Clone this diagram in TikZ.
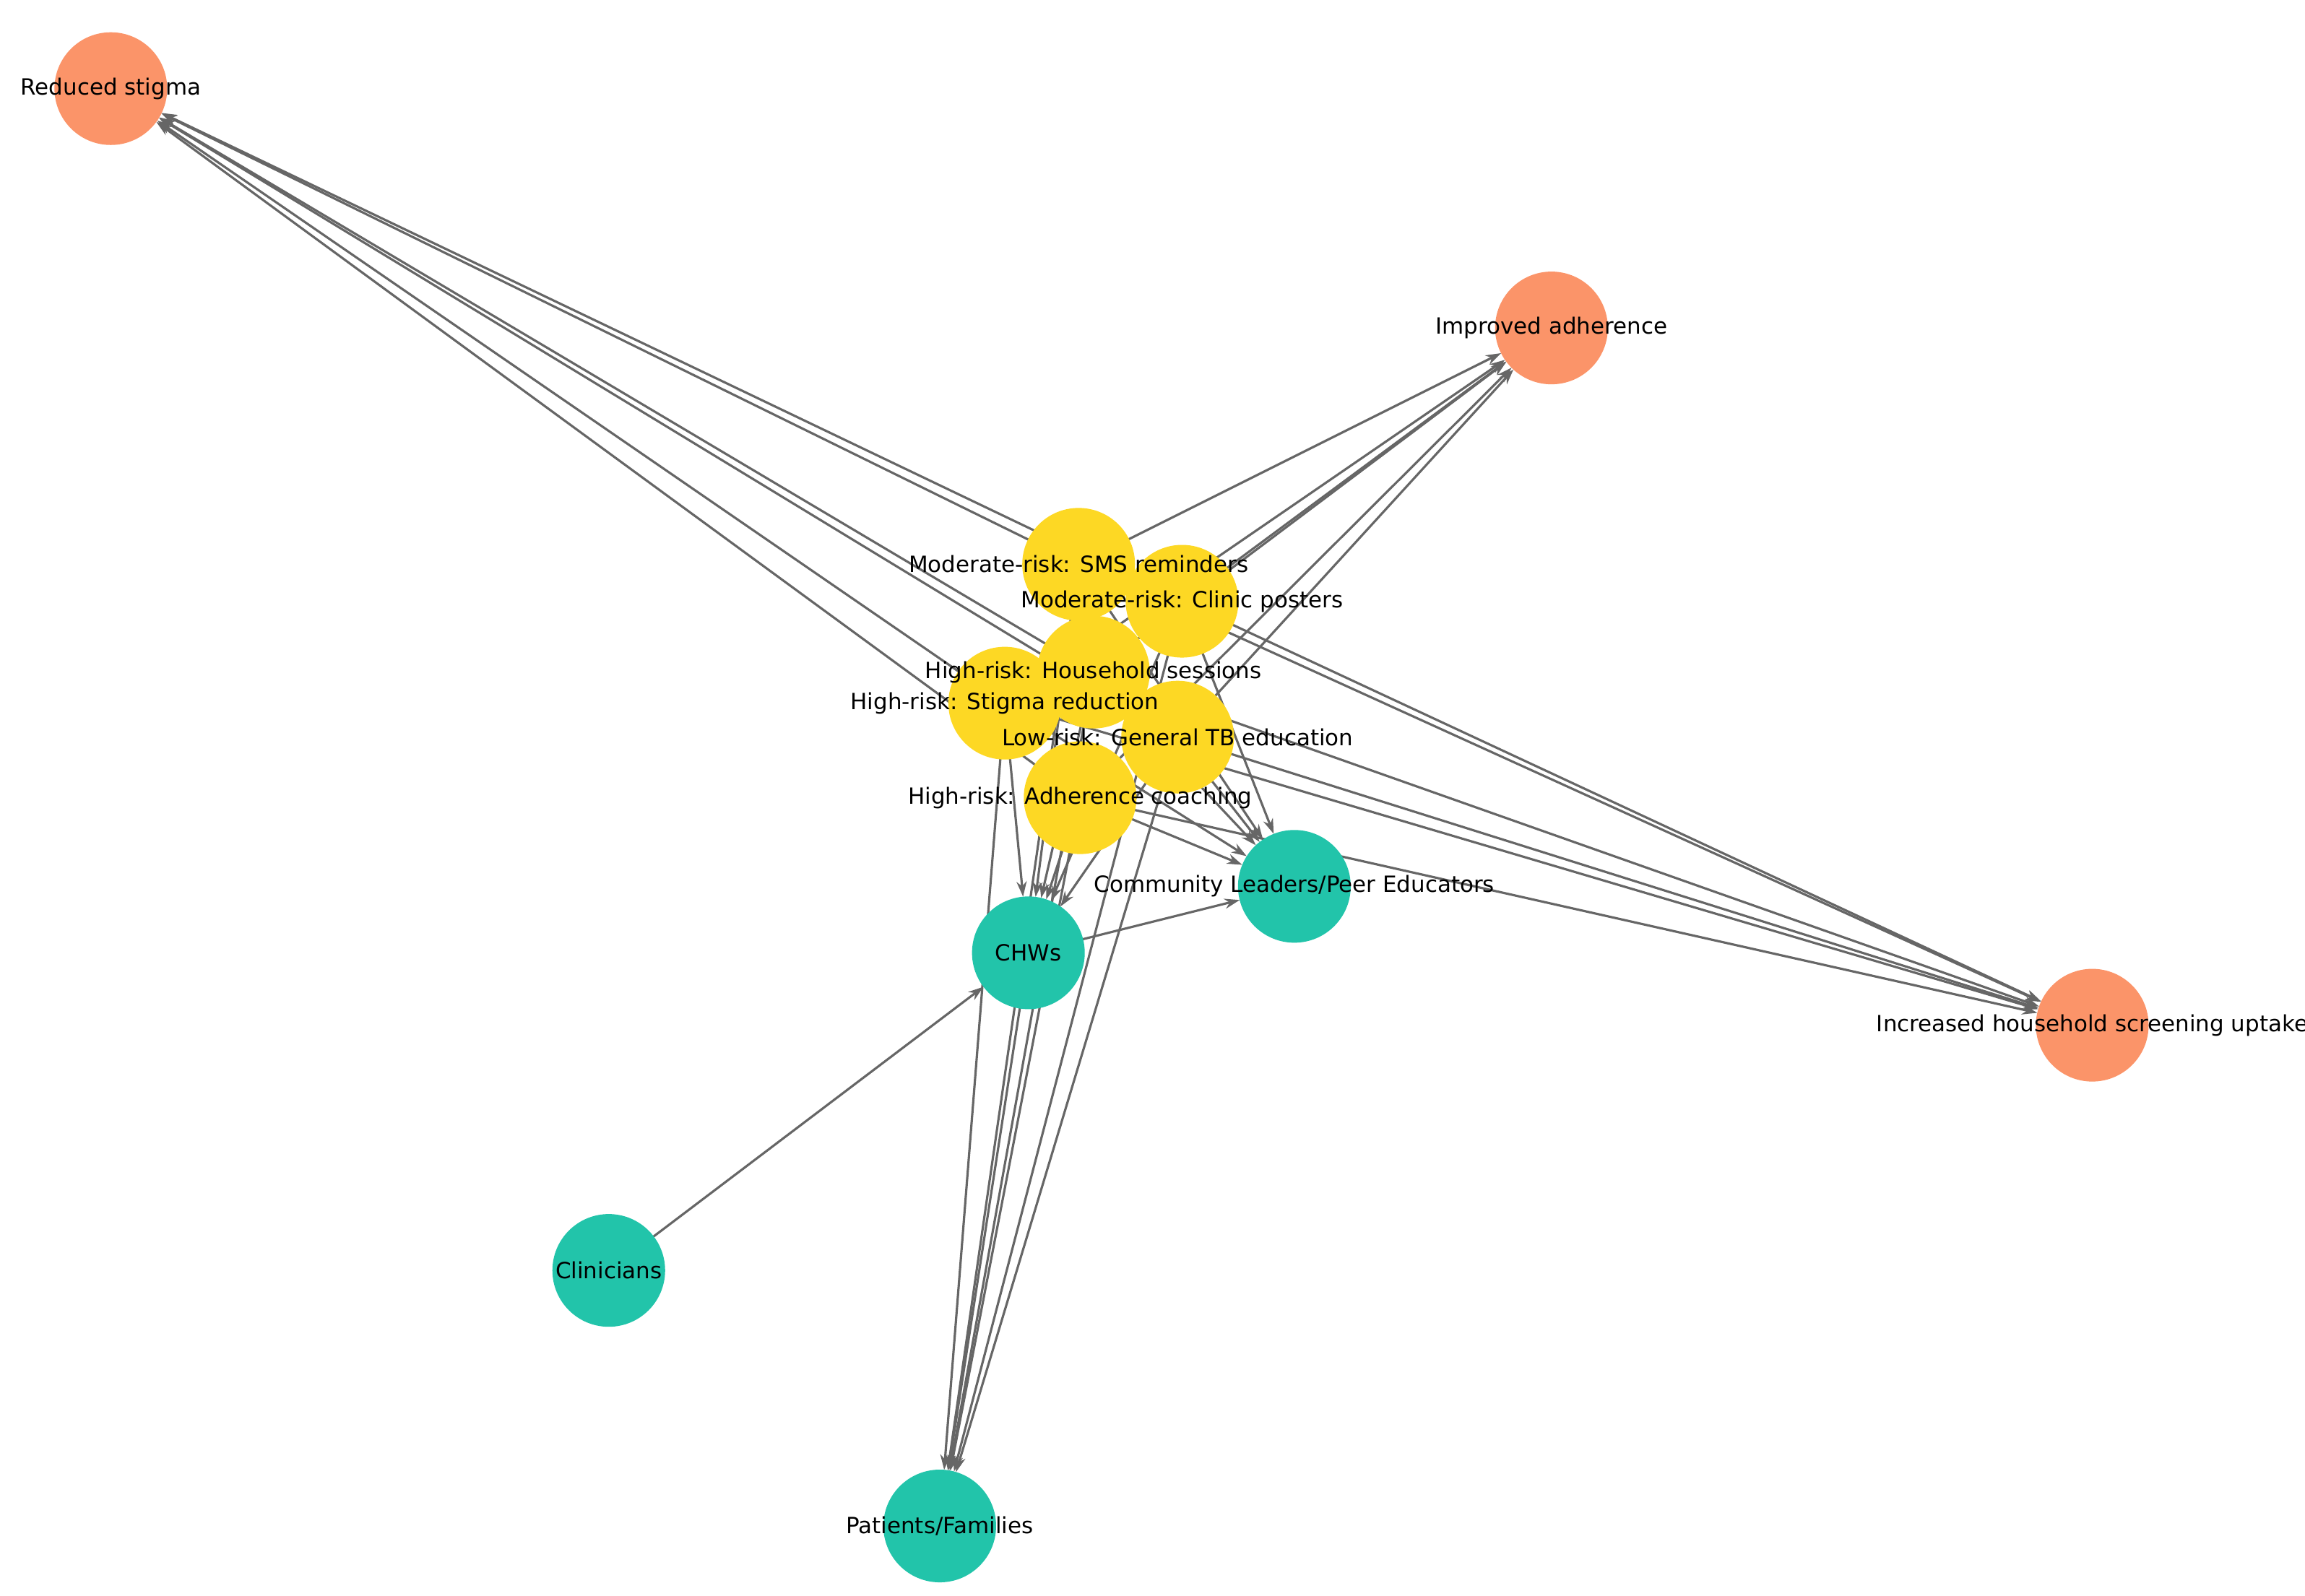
\documentclass[tikz,border=0pt]{standalone}
\usepackage{fontspec}
\setmainfont{DejaVu Sans}
\usetikzlibrary{arrows.meta}
\definecolor{outcome}{HTML}{FB9469}
\definecolor{actor}{HTML}{22C4AA}
\definecolor{action}{HTML}{FDD824}
\definecolor{edgegray}{HTML}{666666}
\tikzset{
  raw circle/.style={circle, minimum size=1.56cm, inner sep=0pt},
  outcome node/.style={raw circle, fill=outcome},
  actor node/.style={raw circle, fill=actor},
  action node/.style={raw circle, fill=action},
  label text/.style={font=\fontsize{8.8}{10.5}\selectfont, text=black},
  link/.style={draw=edgegray, line width=0.9pt, -{Stealth[length=6pt,width=4pt]}, shorten >=0.78cm}
}

\begin{document}
\begin{tikzpicture}[x=0.02045cm, y=-0.02045cm]
  \useasboundingbox (0,0) rectangle (1560,1080);
  % positions
  \coordinate (stigma) at (75,60);
  \coordinate (adher) at (1050,222);
  \coordinate (screen) at (1416,694);
  \coordinate (sms) at (730,382);
  \coordinate (post) at (800,407);
  \coordinate (house) at (740,455);
  \coordinate (stred) at (680,476);
  \coordinate (gen) at (797,499);
  \coordinate (coach) at (731,540);
  \coordinate (lead) at (876,600);
  \coordinate (chw) at (696,645);
  \coordinate (clin) at (412,860);
  \coordinate (pat) at (636,1033);

  % edges
  \foreach \a in {sms,post,house,stred,gen,coach}
    \foreach \b in {stigma,adher,screen,lead,chw,pat}
      \draw [link] (\a) -- (\b);
  \draw [link] (clin) -- (chw);
  \draw [link] (chw) -- (lead);
  \draw [link] (chw) -- (pat);

  % nodes
  \node [outcome node] (n-stigma) at (stigma) {};
  \node [outcome node] (n-adher) at (adher) {};
  \node [outcome node] (n-screen) at (screen) {};
  \node [action node] (n-sms) at (sms) {};
  \node [action node] (n-post) at (post) {};
  \node [action node] (n-house) at (house) {};
  \node [action node] (n-stred) at (stred) {};
  \node [action node] (n-gen) at (gen) {};
  \node [action node] (n-coach) at (coach) {};
  \node [actor node] (n-lead) at (lead) {};
  \node [actor node] (n-chw) at (chw) {};
  \node [actor node] (n-clin) at (clin) {};
  \node [actor node] (n-pat) at (pat) {};

  % labels
  \node [label text] at (stigma) {Reduced stigma};
  \node [label text] at (adher) {Improved adherence};
  \node [label text] at (screen) {Increased household screening uptake};
  \node [label text] at (sms) {Moderate-risk: SMS reminders};
  \node [label text] at (post) {Moderate-risk: Clinic posters};
  \node [label text] at (house) {High-risk: Household sessions};
  \node [label text] at (stred) {High-risk: Stigma reduction};
  \node [label text] at (gen) {Low-risk: General TB education};
  \node [label text] at (coach) {High-risk: Adherence coaching};
  \node [label text] at (lead) {Community Leaders/Peer Educators};
  \node [label text] at (chw) {CHWs};
  \node [label text] at (clin) {Clinicians};
  \node [label text] at (pat) {Patients/Families};
\end{tikzpicture}
\end{document}
